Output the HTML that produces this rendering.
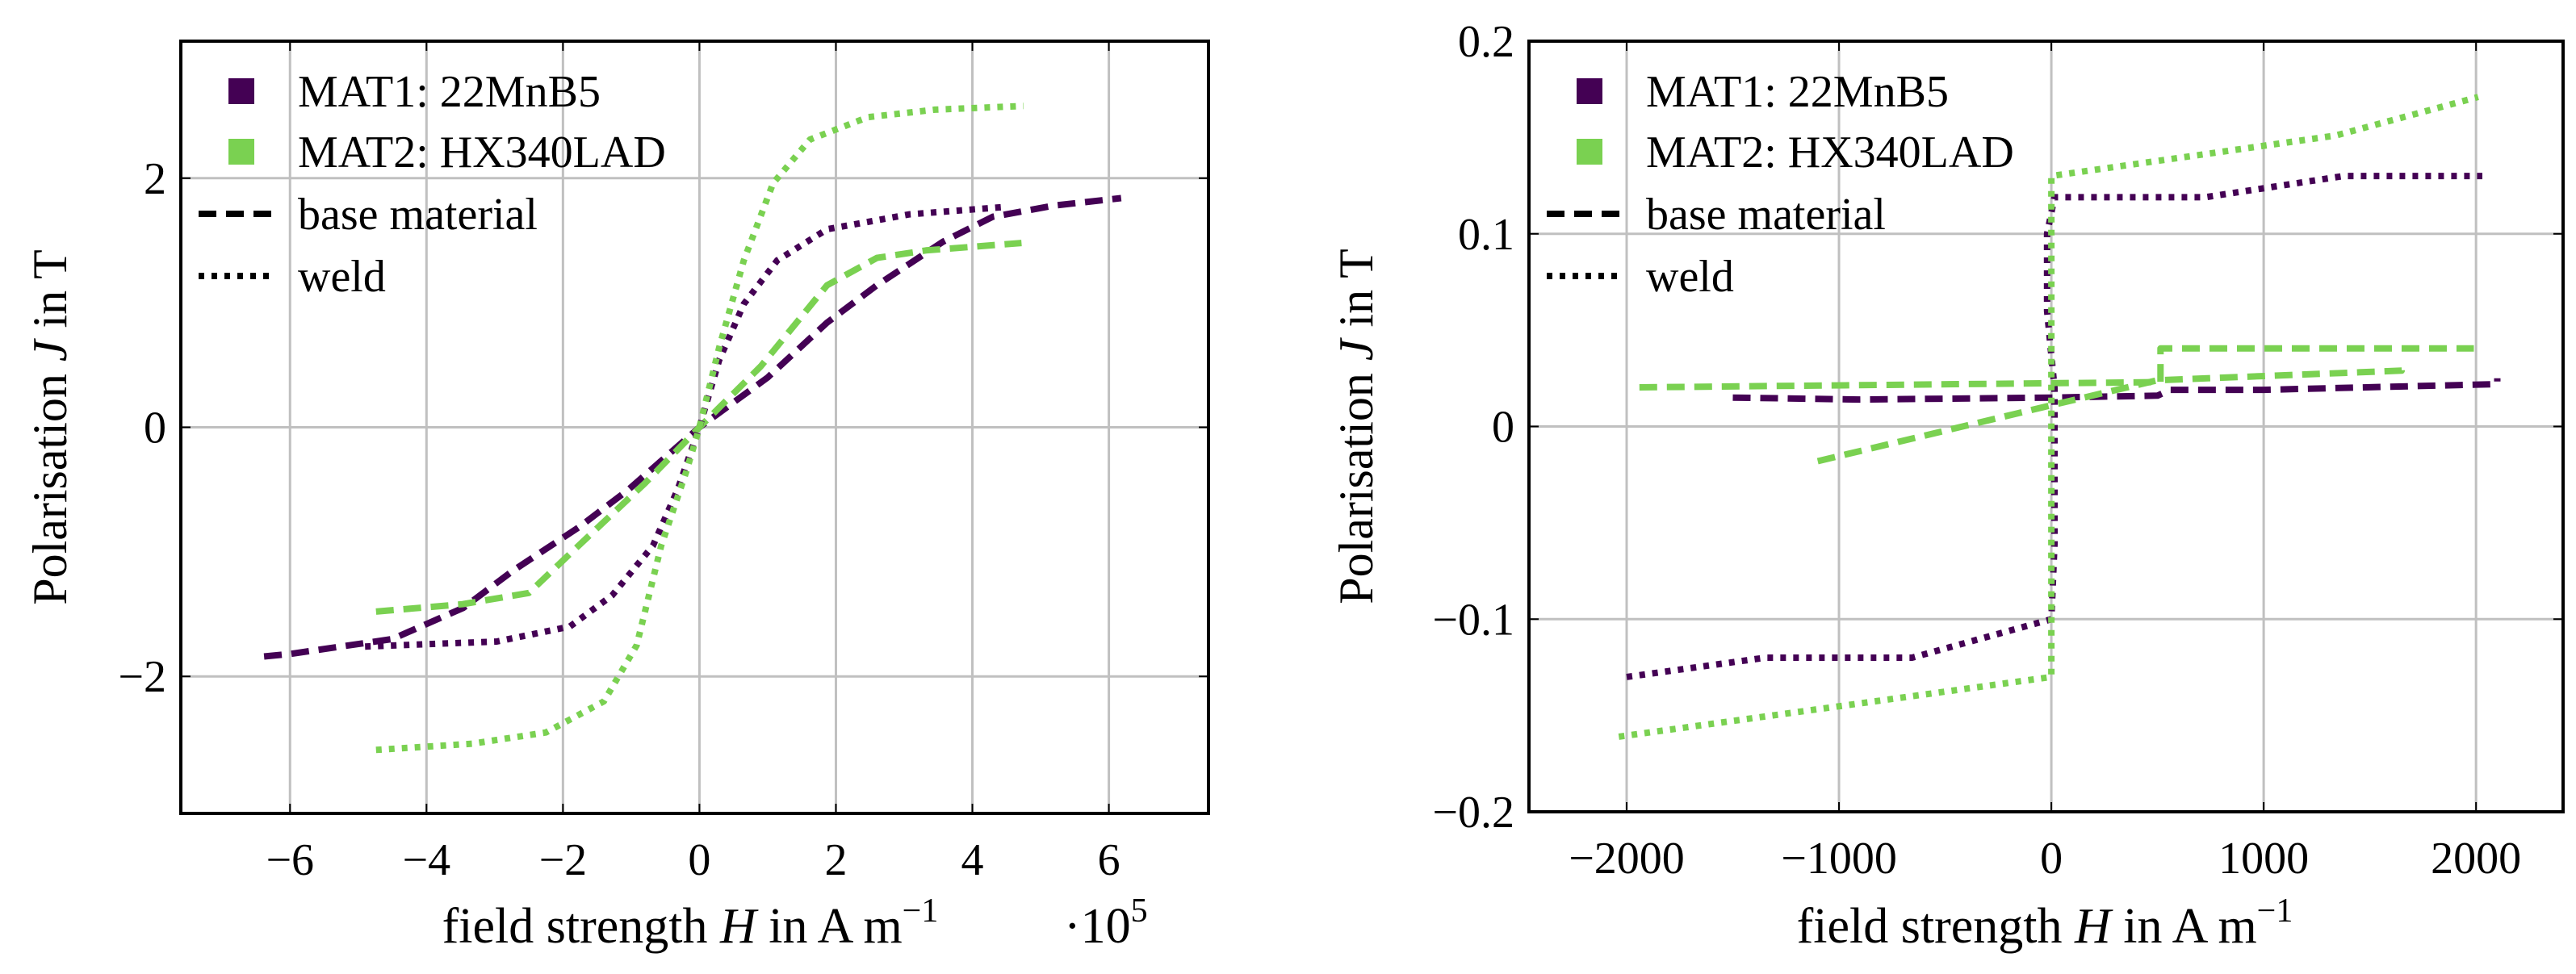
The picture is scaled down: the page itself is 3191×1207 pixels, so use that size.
<!DOCTYPE html>
<html><head><meta charset="utf-8"><style>
html,body{margin:0;padding:0;background:#fff}
svg{display:block}
text{font-family:"Liberation Serif",serif;fill:#000}
</style></head><body>
<svg id="fig" width="3191" height="1207" viewBox="0 0 3191 1207" xmlns="http://www.w3.org/2000/svg"></svg>
<script>
// ---- Left chart data (H in 1e5 A/m, J in T)
const L_xticks=[-6,-4,-2,0,2,4,6];
const L_yticks=[-2,0,2];
const L_m1_base_H=[-6.38,-6.0,-4.5,-3.46,-2.73,-1.76,-1.04,0,1.0,1.87,2.6,3.57,4.3,5.2,6.18];
const L_m1_base_J=[-1.84,-1.82,-1.70,-1.45,-1.15,-0.80,-0.50,0,0.40,0.84,1.14,1.49,1.69,1.78,1.84];
const L_m1_weld_H=[-4.9,-2.97,-1.9,-1.28,-0.68,-0.32,0,0.29,0.65,1.14,1.87,3.08,4.5];
const L_m1_weld_J=[-1.76,-1.72,-1.60,-1.35,-0.95,-0.50,0,0.54,0.99,1.34,1.59,1.71,1.77];
const L_m2_base_H=[-4.74,-3.47,-2.5,-1.77,-0.8,0,0.9,1.87,2.6,3.32,4.72];
const L_m2_base_J=[-1.48,-1.42,-1.33,-0.95,-0.45,0,0.49,1.14,1.36,1.42,1.48];
const L_m2_weld_H=[-4.74,-3.33,-2.25,-1.4,-0.92,-0.56,-0.19,0,0.29,0.65,1.08,1.62,2.47,3.45,4.75];
const L_m2_weld_J=[-2.59,-2.54,-2.45,-2.2,-1.75,-0.95,-0.35,0,0.64,1.34,1.96,2.31,2.49,2.55,2.58];
// ---- Right chart data (H in A/m, J in T)
const R_xticks=[-2000,-1000,0,1000,2000];
const R_yticks=[-0.2,-0.1,0,0.1,0.2];
const R_ytickLabels=["\u22120.2","\u22120.1","0","0.1","0.2"];
const R_m1_base_H=[-1500,-900,0,500,560,1000,2100,2100];
const R_m1_base_J=[0.015,0.014,0.015,0.016,0.019,0.019,0.022,0.025];
const R_m2_baseTop_H=[-1940,495,514,514,1990];
const R_m2_baseTop_J=[0.0203,0.023,0.023,0.0405,0.0405];
const R_m2_baseLow_H=[-1100,0,500,1650,1650];
const R_m2_baseLow_J=[-0.018,0.011,0.024,0.029,0.033];
const R_m1_weld_H=[-2000,-1346,-656,0,15,15,-20,-20,15,725,1377,2030];
const R_m1_weld_J=[-0.13,-0.12,-0.12,-0.1,-0.061,0.02,0.06,0.1,0.119,0.119,0.13,0.13];
const R_m2_weld_H=[-2037,0,0,1338,2010];
const R_m2_weld_J=[-0.161,-0.13,0.13,0.151,0.171];

const NS="http://www.w3.org/2000/svg";
const svg=document.getElementById('fig');
const PURPLE="#440154", GREEN="#7ad151";
function mk(tag,attrs,parent){const e=document.createElementNS(NS,tag);for(const k in attrs)e.setAttribute(k,attrs[k]);(parent||svg).appendChild(e);return e;}

function chart(cfg){
  const g=mk('g',{});
  
  
  const sx=v=>cfg.x0+(v-cfg.xmin)/(cfg.xmax-cfg.xmin)*(cfg.x1-cfg.x0);
  const sy=v=>cfg.y1-(v-cfg.ymin)/(cfg.ymax-cfg.ymin)*(cfg.y1-cfg.y0);
  cfg.xticks.forEach((t,i)=>{
    const X=sx(t);
    const gl=mk('line',{x1:X,x2:X,y1:cfg.y0,y2:cfg.y1,stroke:'#c0c0c0','stroke-width':3},g);
    
    mk('line',{x1:X,x2:X,y1:cfg.y1,y2:cfg.y1-12,stroke:'#000','stroke-width':2},g);
    mk('line',{x1:X,x2:X,y1:cfg.y0,y2:cfg.y0+12,stroke:'#000','stroke-width':2},g);
    const tx=mk('text',{x:X,y:cfg.y1+76,'font-size':56,'text-anchor':'middle'},g);
    tx.textContent=t<0?'\u2212'+Math.abs(t):String(t);
    
  });
  cfg.yticks.forEach((t,i)=>{
    const Y=sy(t);
    const gl=mk('line',{x1:cfg.x0,x2:cfg.x1,y1:Y,y2:Y,stroke:'#c0c0c0','stroke-width':3},g);
    
    mk('line',{x1:cfg.x0,x2:cfg.x0+12,y1:Y,y2:Y,stroke:'#000','stroke-width':2},g);
    mk('line',{x1:cfg.x1,x2:cfg.x1-12,y1:Y,y2:Y,stroke:'#000','stroke-width':2},g);
    const tx=mk('text',{x:cfg.x0-18,y:Y+19,'font-size':56,'text-anchor':'end'},g);
    tx.textContent=cfg.ylabels?cfg.ylabels[i]:(t<0?'\u2212'+Math.abs(t):String(t));
    
  });
  const clipId='clip'+cfg.name;
  const cp=mk('clipPath',{id:clipId},g);
  mk('rect',{x:cfg.x0,y:cfg.y0,width:cfg.x1-cfg.x0,height:cfg.y1-cfg.y0},cp);
  cfg.series.forEach(s=>{
    const d=s.H.map((h,i)=>(i?'L':'M')+sx(h).toFixed(1)+' '+sy(s.J[i]).toFixed(1)).join(' ');
    const p=mk('path',{d:d,fill:'none',stroke:s.color,'stroke-width':8,'stroke-linejoin':'round','stroke-dasharray':s.dash,'clip-path':'url(#'+clipId+')'},g);
    
    
  });
  const fr=mk('rect',{x:cfg.x0,y:cfg.y0,width:cfg.x1-cfg.x0,height:cfg.y1-cfg.y0,fill:'none',stroke:'#000','stroke-width':4},g);
  
  const lg=mk('g',{},g);
  
  const lx=cfg.lx;
  const ent=[['MAT1: 22MnB5','sq',PURPLE],['MAT2: HX340LAD','sq',GREEN],['base material','dash','#000'],['weld','dot','#000']];
  const ys=[113,188,265,342];
  ent.forEach((e,i)=>{
    const eg=mk('g',{},lg);
    
    if(e[1]==='sq') mk('rect',{x:lx+37,y:ys[i]-16,width:32,height:32,fill:e[2]},eg);
    else mk('line',{x1:lx,x2:lx+92,y1:ys[i],y2:ys[i],stroke:e[2],'stroke-width':8,'stroke-dasharray':e[1]==='dash'?'22 12':'7 9'},eg);
    const t=mk('text',{x:lx+123,y:ys[i]+19,'font-size':56},eg);
    t.textContent=e[0];
  });
  const yl=mk('text',{x:0,y:0,'font-size':60,'text-anchor':'middle',transform:'translate('+cfg.ylx+','+((cfg.y0+cfg.y1)/2)+') rotate(-90)'},g);
  yl.innerHTML='Polarisation <tspan font-style="italic">J</tspan> in T';
  
  const xl=mk('text',{x:cfg.xlx,y:1168,'font-size':62,'text-anchor':'middle'},g);
  xl.innerHTML='field strength <tspan font-style="italic">H</tspan> in A m<tspan dy="-26" font-size="42">\u22121</tspan>';
  
  return {sx,sy};
}

chart({name:'left-chart',x0:224,x1:1497,y0:51,y1:1008,xmin:-7.6,xmax:7.46,ymin:-3.1,ymax:3.1,
  xticks:L_xticks,yticks:L_yticks,lx:246,ylx:82,xlx:855,
  series:[
   {name:'mat1-base-line',H:L_m1_base_H,J:L_m1_base_J,color:PURPLE,dash:'22 12'},
   {name:'mat2-base-line',H:L_m2_base_H,J:L_m2_base_J,color:GREEN,dash:'22 12'},
   {name:'mat1-weld-line',H:L_m1_weld_H,J:L_m1_weld_J,color:PURPLE,dash:'7 9'},
   {name:'mat2-weld-line',H:L_m2_weld_H,J:L_m2_weld_J,color:GREEN,dash:'7 9'}]});
const ex=mk('text',{x:1318,y:1168,'font-size':62});
ex.innerHTML='\u00b710<tspan dy="-26" font-size="42">5</tspan>';



chart({name:'right-chart',x0:1894,x1:3175,y0:51,y1:1006,xmin:-2460,xmax:2410,ymin:-0.2,ymax:0.2,
  xticks:R_xticks,yticks:R_yticks,ylabels:R_ytickLabels,lx:1916,ylx:1700,xlx:2533,
  series:[
   {name:'mat1-base-line',H:R_m1_base_H,J:R_m1_base_J,color:PURPLE,dash:'22 12'},
   {name:'mat2-base-top-line',H:R_m2_baseTop_H,J:R_m2_baseTop_J,color:GREEN,dash:'22 12'},
   {name:'mat2-base-low-line',H:R_m2_baseLow_H,J:R_m2_baseLow_J,color:GREEN,dash:'22 12'},
   {name:'mat1-weld-line',H:R_m1_weld_H,J:R_m1_weld_J,color:PURPLE,dash:'7 9'},
   {name:'mat2-weld-line',H:R_m2_weld_H,J:R_m2_weld_J,color:GREEN,dash:'7 9'}]});
</script>
</body></html>
